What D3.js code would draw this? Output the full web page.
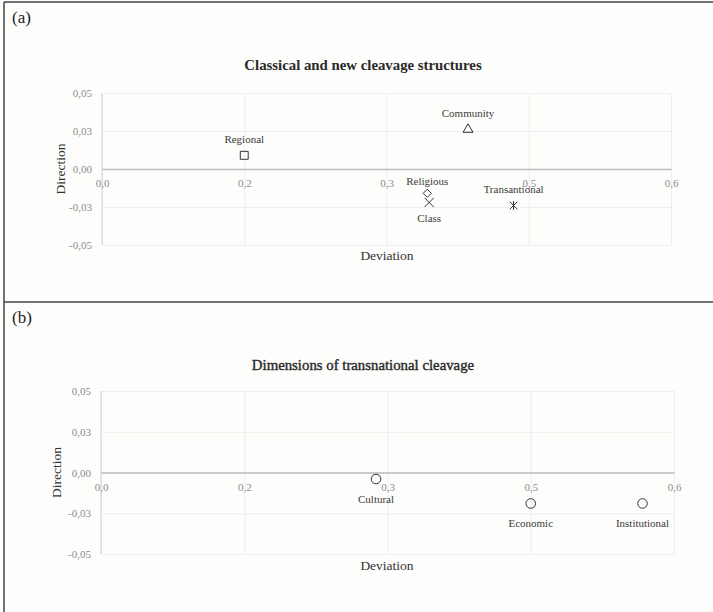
<!DOCTYPE html>
<html>
<head>
<meta charset="utf-8">
<script src="https://cdn.jsdelivr.net/npm/d3@7"></script>
<style>
  html, body { margin: 0; padding: 0; background: #fdfdfb; }
  svg { display: block; }
  text { font-family: "Liberation Serif", "DejaVu Serif", serif; }
</style>
</head>
<body>
<svg id="fig" width="713" height="612"></svg>
<script>
// Axis ticks (values and printed labels)
const xTickValues = [0, 0.15, 0.30, 0.45, 0.60];
const xTickLabels = ["0,0", "0,2", "0,3", "0,5", "0,6"];
const yTickValues = [0.05, 0.025, 0, -0.025, -0.05];
const yTickLabels = ["0,05", "0,03", "0,00", "-0,03", "-0,05"];

// Panel (a): classical and new cleavages
const cleavagesA = ["Regional", "Community", "Religious", "Class", "Transantional"];
const deviationA = [0.150, 0.386, 0.343, 0.345, 0.434];
const directionA = [0.009, 0.026, -0.016, -0.022, -0.024];
const markersA = ["square", "triangle", "diamond", "times", "star"];
const labelSideA = ["above", "above", "aboveNear", "belowNear", "above"];

// Panel (b): dimensions of the transnational cleavage
const cleavagesB = ["Cultural", "Economic", "Institutional"];
const deviationB = [0.288, 0.450, 0.567];
const directionB = [-0.004, -0.019, -0.019];
const markersB = ["circle", "circle", "circle"];
const labelSideB = ["below", "below", "below"];

const svg = d3.select("#fig");
const ink = "#333";

// Excel-style star marker: an X with a vertical stroke
const symbolStar = {
  draw(ctx, size) {
    const r = Math.sqrt(size) / 2;
    const d = r * 0.95;
    ctx.moveTo(-d, -d); ctx.lineTo(d, d);
    ctx.moveTo(-d, d); ctx.lineTo(d, -d);
    ctx.moveTo(0, -r * 1.1); ctx.lineTo(0, r * 1.1);
  }
};
const symbolTypes = {
  square: [d3.symbolSquare2, 80],
  triangle: [d3.symbolTriangle2, 70],
  diamond: [d3.symbolDiamond2, 42],
  times: [d3.symbolTimes, 55],
  star: [symbolStar, 64],
  circle: [d3.symbolCircle, 72]
};
const labelDy = { above: -12, aboveNear: -8, below: 24, belowNear: 20 };

// Outer frame and divider
const frame = svg.append("g").attr("stroke", "#444").attr("stroke-width", 1.5).attr("fill", "none");
frame.append("line").attr("x1", 4).attr("x2", 713).attr("y1", 2).attr("y2", 2);
frame.append("line").attr("x1", 4).attr("x2", 4).attr("y1", 2).attr("y2", 612);
frame.append("line").attr("x1", 4).attr("x2", 713).attr("y1", 302).attr("y2", 302);

function drawPanel(cfg) {
  const g = svg.append("g");
  const x = d3.scaleLinear().domain([0, 0.6]).range([cfg.left, cfg.right]);
  const y = d3.scaleLinear().domain([-0.05, 0.05]).range([cfg.bottom, cfg.top]);

  g.append("text").attr("x", 12).attr("y", cfg.tag[1])
    .attr("font-size", 17).attr("fill", "#222").text(cfg.tag[0]);

  g.append("text").attr("x", 363).attr("y", cfg.titleY)
    .attr("text-anchor", "middle").attr("font-size", 14.8).attr("font-weight", cfg.titleWeight)
    .attr("fill", "#2a2a2a").attr("stroke", "#2a2a2a").attr("stroke-width", cfg.titleStroke)
    .text(cfg.title);

  // gridlines
  g.append("g")
    .attr("transform", `translate(0,${cfg.bottom})`)
    .call(d3.axisBottom(x).tickValues(xTickValues).tickSize(-(cfg.bottom - cfg.top)).tickFormat(""))
    .call(a => a.select(".domain").remove())
    .call(a => a.selectAll("line").attr("stroke", "#eeeeec").attr("stroke-width", 1));
  g.append("g")
    .attr("transform", `translate(${cfg.left},0)`)
    .call(d3.axisLeft(y).tickValues(yTickValues).tickSize(-(cfg.right - cfg.left)).tickFormat(""))
    .call(a => a.select(".domain").remove())
    .call(a => a.selectAll("line").attr("stroke", "#eeeeec").attr("stroke-width", 1));

  // left axis line
  g.append("line").attr("x1", x(0)).attr("x2", x(0)).attr("y1", cfg.top).attr("y2", cfg.bottom)
    .attr("stroke", "#d0d0d0").attr("stroke-width", 1);

  // y tick labels
  g.append("g")
    .attr("transform", `translate(${cfg.left},0)`)
    .call(d3.axisLeft(y).tickValues(yTickValues).tickSize(0).tickPadding(10)
      .tickFormat((d, i) => yTickLabels[i]))
    .call(a => a.select(".domain").remove())
    .call(a => a.selectAll("text").attr("font-family", "Liberation Serif, serif")
      .attr("font-size", 11).attr("fill", "#8c8c8c"));

  // zero line with x tick labels hanging under it
  g.append("g")
    .attr("transform", `translate(0,${y(0)})`)
    .call(d3.axisBottom(x).tickValues(xTickValues).tickSize(0).tickPadding(cfg.xPad)
      .tickFormat((d, i) => xTickLabels[i]))
    .call(a => a.select(".domain").attr("stroke", "#bdbdbd").attr("stroke-width", 1.5))
    .call(a => a.selectAll("text").attr("font-family", "Liberation Serif, serif")
      .attr("font-size", 11).attr("fill", "#8c8c8c"));

  // axis titles
  g.append("text").attr("transform", `translate(${cfg.dirX},${y(0)}) rotate(-90)`)
    .attr("text-anchor", "middle").attr("dy", "0.35em")
    .attr("font-size", 13.5).attr("fill", "#333").text("Direction");
  g.append("text").attr("x", 387).attr("y", cfg.devY)
    .attr("text-anchor", "middle").attr("font-size", 13.5).attr("fill", "#333").text("Deviation");

  // points
  const pts = cfg.names.map((n, i) => ({
    name: n, dev: cfg.dev[i], dir: cfg.dir[i], marker: cfg.markers[i], side: cfg.sides[i]
  }));
  g.selectAll("path.pt").data(pts).join("path")
    .attr("class", "pt")
    .attr("transform", d => `translate(${x(d.dev)},${y(d.dir)})`)
    .attr("d", d => d3.symbol().type(symbolTypes[d.marker][0]).size(symbolTypes[d.marker][1])())
    .attr("fill", "none").attr("stroke", ink).attr("stroke-width", 1);

  g.selectAll("text.lbl").data(pts).join("text")
    .attr("class", "lbl")
    .attr("x", d => x(d.dev))
    .attr("y", d => y(d.dir) + labelDy[d.side])
    .attr("text-anchor", "middle").attr("font-size", 11).attr("fill", "#3a3a3a")
    .text(d => d.name);
}

drawPanel({
  tag: ["(a)", 23], title: "Classical and new cleavage structures", titleY: 70,
  titleWeight: "bold", titleStroke: 0,
  left: 102, right: 671, top: 93, bottom: 245, xPad: 10, dirX: 60, devY: 260,
  names: cleavagesA, dev: deviationA, dir: directionA, markers: markersA, sides: labelSideA
});
drawPanel({
  tag: ["(b)", 323], title: "Dimensions of transnational cleavage", titleY: 370,
  titleWeight: "normal", titleStroke: 0.4,
  left: 101, right: 674, top: 391, bottom: 554, xPad: 11, dirX: 56, devY: 570,
  names: cleavagesB, dev: deviationB, dir: directionB, markers: markersB, sides: labelSideB
});
</script>
</body>
</html>
